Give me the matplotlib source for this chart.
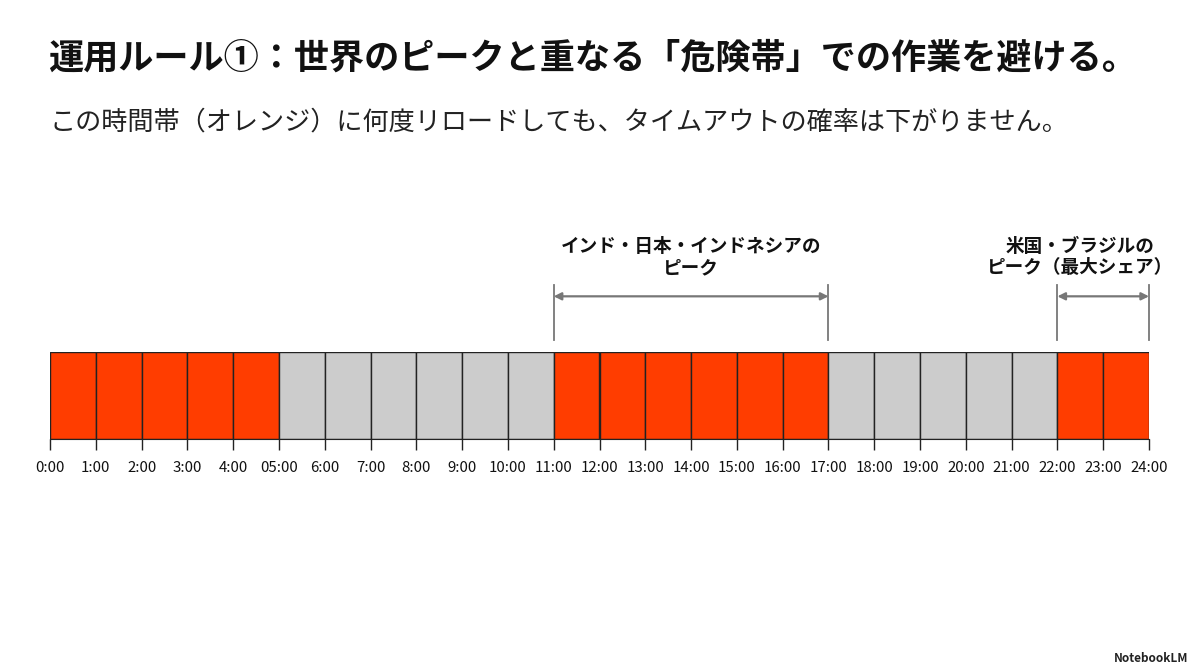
import matplotlib.pyplot as plt

plt.rcParams['font.family'] = ['Noto Sans CJK JP', 'DejaVu Sans']

# hour slots and whether each is a "danger" (peak) hour
hours = list(range(24))
danger = [1, 1, 1, 1, 1, 0, 0, 0, 0, 0, 0, 1, 1, 1, 1, 1, 1, 0, 0, 0, 0, 0, 1, 1]
tick_labels = ['0:00', '1:00', '2:00', '3:00', '4:00', '05:00', '6:00', '7:00',
               '8:00', '9:00', '10:00', '11:00', '12:00', '13:00', '14:00',
               '15:00', '16:00', '17:00', '18:00', '19:00', '20:00', '21:00',
               '22:00', '23:00', '24:00']

# peak ranges (start hour, end hour, label, label centre)
peak_starts = [11, 22]
peak_ends = [17, 24]
peak_labels = ['インド・日本・インドネシアの\nピーク', '米国・ブラジルの\nピーク（最大シェア）']
label_pos = [14, 22.5]

title = '運用ルール①：世界のピークと重なる「危険帯」での作業を避ける。'
subtitle = 'この時間帯（オレンジ）に何度リロードしても、タイムアウトの確率は下がりません。'

RED = '#ff3d00'
GRAY = '#cccccc'

fig = plt.figure(figsize=(12, 6.7), dpi=100)
fig.patch.set_facecolor('white')

fig.text(48 / 1200, 1 - 58 / 670, title, fontsize=25.3, fontweight='bold',
         va='center', ha='left', color='#111111')
fig.text(49 / 1200, 1 - 122 / 670, subtitle, fontsize=18.8,
         va='center', ha='left', color='#222222')

ax = fig.add_axes([50 / 1200, 1 - 439 / 670, 1099 / 1200, 87 / 670])
colors = [RED if d else GRAY for d in danger]
ax.bar(hours, [1] * len(hours), width=1, align='edge', color=colors,
       edgecolor='#222222', linewidth=1.0)
ax.set_xlim(0, 24)
ax.set_ylim(0, 1)

ax.set_xticks(range(25))
ax.set_xticklabels(tick_labels, fontsize=10.8, color='#111111')
ax.tick_params(axis='x', length=8, width=1, color='#222222', pad=8)
ax.set_yticks([])
for side in ['left', 'right', 'top']:
    ax.spines[side].set_visible(False)
ax.spines['bottom'].set_color('#222222')

for s, e, lab, lx in zip(peak_starts, peak_ends, peak_labels, label_pos):
    for x in (s, e):
        ax.plot([x, x], [1.14, 1.77], color='#777777', lw=1.3, clip_on=False)
    ax.annotate('', xy=(s, 1.64), xytext=(e, 1.64),
                arrowprops=dict(arrowstyle='<|-|>', color='#777777', lw=1.6,
                                mutation_scale=11, shrinkA=0, shrinkB=0),
                annotation_clip=False)
    ax.text(lx, 2.09, lab, ha='center', va='center', fontsize=13.4,
            fontweight='bold', linespacing=1.15, color='#111111', clip_on=False)

fig.text(1188 / 1200, 1 - 658 / 670, 'NotebookLM', fontsize=8.5, fontweight='bold',
         ha='right', va='center', color='#222222')

fig.savefig('out.png', dpi=100, facecolor='white')
